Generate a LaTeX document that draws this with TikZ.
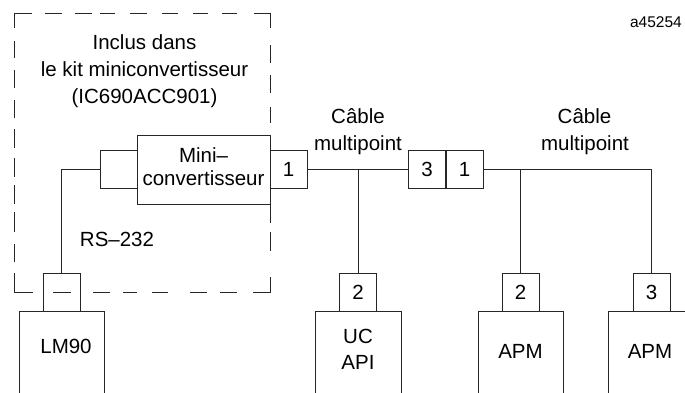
\documentclass[tikz,border=0pt]{standalone}
\usepackage{fontspec}
\setmainfont{Liberation Sans}
\begin{document}
\begin{tikzpicture}[x=1pt,y=-1pt,
  ln/.style={draw=black!85,line width=0.9pt},
  port/.style={ln,rectangle,inner sep=0pt,minimum width=37pt,minimum height=38pt,font=\fontsize{20.5}{27}\selectfont},
  dev/.style={ln,rectangle,inner sep=0pt,minimum height=100pt},
  lbl/.style={inner sep=0pt,anchor=base,font=\fontsize{20.5}{27}\selectfont},
  dbox/.style={draw=black!85,line width=0.9pt}]
\useasboundingbox (0,0) rectangle (685,392);
\clip (0,0) rectangle (685,392);
% dashed enclosure (irregular dashes drawn piece by piece)
\draw[dbox] (14,28) -- (14,13) -- (32,13);
\draw[dbox] (254,13) -- (270,13) -- (270,28);
\draw[dbox] (14,273) -- (14,292) -- (33,292);
\draw[dbox] (253,292) -- (270,292) -- (270,277);
\foreach \a/\b in {45/62,75/92,100/115,130/147,162/178,193/208,222/237}
  \draw[dbox] (\a,13) -- (\b,13);
\foreach \a/\b in {41/58,70/88,100/118,129/148,158/177,185/204,212/232,244/262}
  \draw[dbox] (14,\a) -- (14,\b);
\foreach \a/\b in {53/71,93/110,123/137,152/168,190/207,220/237}
  \draw[dbox] (\a,292) -- (\b,292);
\foreach \a/\b in {45/63,75/93,107/123,204/223,232/251}
  \draw[dbox] (270,\a) -- (270,\b);
% text in enclosure
\node[lbl] (t1) at (144.5,49) {Inclus dans};
\node[lbl] (t2) at (144.5,76) {le kit miniconvertisseur};
\node[lbl] (t3) at (144.5,103) {(IC690ACC901)};
% mini converter
\node[ln,rectangle,inner sep=0pt,minimum width=133pt,minimum height=69pt] (mini) at (203.5,169.5) {};
\node[lbl] (m1) at (203.5,162.5) {Mini–};
\node[lbl] (m2) at (203.5,185) {convertisseur};
\node[port] (lport) at (118.5,169.5) {};
\node[port] (p1) at (288.5,169.5) {1};
% LM90
\node[port] (pm) at (61.5,292) {};
\node[dev,minimum width=85pt,anchor=north] (lm) at (61.5,311) {};
\node[lbl] (lmt) at (66,353) {LM90};
\node[lbl] (rs) at (117,246) {RS–232};
% repeater
\node[port] (p3) at (427,169.5) {3};
\node[port] (p1b) at (464.5,169.5) {1};
% drops
\node[port] (p2a) at (358,292) {2};
\node[dev,minimum width=86pt,anchor=north] (uc) at (358,311) {};
\node[lbl] (uct) at (358,343) {UC};
\node[lbl] (apit) at (358,369) {API};
\node[port] (p2b) at (520.5,292) {2};
\node[dev,minimum width=85pt,anchor=north] (apm1) at (520.5,311) {};
\node[lbl] (apm1t) at (520.5,358) {APM};
\node[port] (p3b) at (651.5,292) {3};
\node[dev,minimum width=87pt,anchor=north] (apm2) at (651.5,311) {};
\node[lbl] (apm2t) at (650,358) {APM};
% cable labels
\node[lbl] (c1a) at (358,123) {Câble};
\node[lbl] (c1b) at (358,150) {multipoint};
\node[lbl] (c2a) at (584.5,123) {Câble};
\node[lbl] (c2b) at (585,150) {multipoint};
\node[inner sep=0pt,anchor=base east,font=\fontsize{15.5}{18}\selectfont] (ref) at (682,27) {a45254};
% connectors
\draw[ln] (lport.west) -| (pm.north);
\draw[ln] (p1.east) -- (p3.west);
\coordinate (j1) at (p2a.north |- p1.east);
\draw[ln] (j1) -- (p2a.north);
\coordinate (j2) at (p3b.north |- p1b.east);
\draw[ln] (p1b.east) -- (j2) -- (p3b.north);
\coordinate (j3) at (p2b.north |- p1b.east);
\draw[ln] (j3) -- (p2b.north);
\end{tikzpicture}
\end{document}
